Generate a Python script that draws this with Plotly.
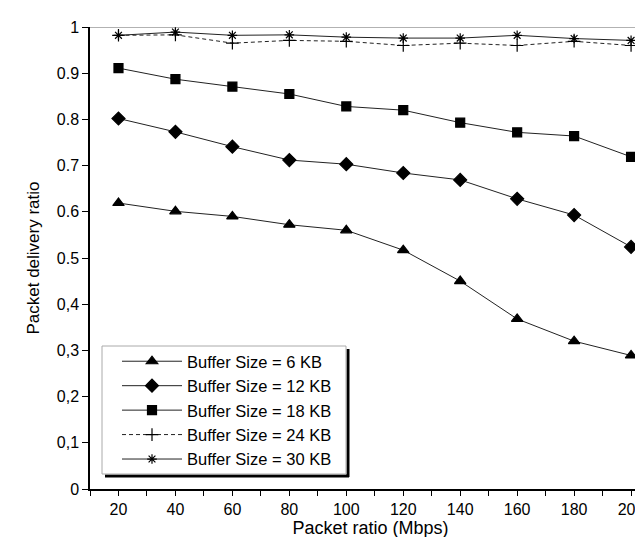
import plotly.graph_objects as go

packet_ratio = [20, 40, 60, 80, 100, 120, 140, 160, 180, 200]

buf_6kb = [0.619, 0.601, 0.590, 0.572, 0.560, 0.517, 0.450, 0.368, 0.320, 0.289]
buf_12kb = [0.802, 0.773, 0.741, 0.712, 0.703, 0.684, 0.669, 0.628, 0.593, 0.524]
buf_18kb = [0.911, 0.887, 0.871, 0.855, 0.828, 0.820, 0.793, 0.772, 0.764, 0.719]
buf_24kb = [0.982, 0.983, 0.965, 0.971, 0.969, 0.960, 0.965, 0.960, 0.969, 0.960]
buf_30kb = [0.982, 0.989, 0.982, 0.983, 0.978, 0.976, 0.976, 0.982, 0.975, 0.971]

series_names = ["Buffer Size = 6 KB", "Buffer Size = 12 KB", "Buffer Size = 18 KB",
                "Buffer Size = 24 KB", "Buffer Size = 30 KB"]

x_tick_vals = [10, 20, 30, 40, 50, 60, 70, 80, 90, 100, 110, 120, 130, 140, 150,
               160, 170, 180, 190, 200]
x_tick_text = ["", "20", "", "40", "", "60", "", "80", "", "100", "", "120", "",
               "140", "", "160", "", "180", "", "200"]
y_tick_vals = [0, 0.1, 0.2, 0.3, 0.4, 0.5, 0.6, 0.7, 0.8, 0.9, 1]
y_tick_text = ["0", "0,1", "0,2", "0,3", "0,4", "0.5", "0.6", "0.7", "0.8", "0.9", "1"]

FONT = "Liberation Sans, Arial, sans-serif"
LINE_COL = "#222222"

W, H = 643, 537
ML, MR, MT, MB = 82, 0, 19, 56
PW, PH = W - ML - MR, H - MT - MB


def px_x(p):
    return (p - ML) / PW


def px_y(p):
    return (H - MB - p) / PH


styles = [
    dict(symbol="triangle-up", size=10, dash="solid"),
    dict(symbol="diamond", size=10, dash="solid"),
    dict(symbol="square", size=9, dash="solid"),
    dict(symbol="cross-thin-open", size=9, dash="4px,3px"),
    dict(symbol="asterisk-open", size=8, dash="solid"),
]
data = [buf_6kb, buf_12kb, buf_18kb, buf_24kb, buf_30kb]

fig = go.Figure()
for i, (name, ys, st) in enumerate(zip(series_names, data, styles)):
    fig.add_trace(go.Scatter(
        x=packet_ratio, y=ys, name=name, mode="lines+markers",
        legendgroup=f"g{i}",
        line=dict(color=LINE_COL, width=1, dash=st["dash"]),
        marker=dict(symbol=st["symbol"], size=st["size"], color="black",
                    line=dict(color="black", width=1.2)),
    ))

# legend frame geometry in pixels (left, top, right, bottom)
LEG_L, LEG_T, LEG_R, LEG_B = 94, 338, 338, 466

fig.update_layout(
    width=W, height=H,
    margin=dict(l=ML, r=MR, t=MT, b=MB),
    paper_bgcolor="white", plot_bgcolor="white",
    font=dict(family=FONT, color="black", size=16),
    showlegend=True,
    legend=dict(
        x=px_x(109), y=px_y(336), xanchor="left", yanchor="top",
        bgcolor="rgba(0,0,0,0)", borderwidth=0,
        font=dict(family=FONT, size=16.5, color="black"),
        tracegroupgap=0, itemwidth=60,
    ),
    xaxis=dict(
        range=[10, 207], tickmode="array", tickvals=x_tick_vals, ticktext=x_tick_text,
        showgrid=False, zeroline=False, showline=True, linecolor="black", linewidth=1.5,
        ticks="outside", ticklen=5, tickcolor="black", tickwidth=1,
        tickfont=dict(size=16, family=FONT), automargin=False,
        title=dict(text="Packet ratio (Mbps)", font=dict(size=18, family=FONT), standoff=3),
    ),
    yaxis=dict(
        range=[0, 1], tickmode="array", tickvals=y_tick_vals, ticktext=y_tick_text,
        showgrid=False, zeroline=False, showline=True, linecolor="black", linewidth=1.5,
        ticks="outside", ticklen=6, tickcolor="black", tickwidth=1,
        tickfont=dict(size=16, family=FONT), automargin=False,
        title=dict(text="Packet delivery ratio", font=dict(size=17, family=FONT), standoff=13),
    ),
    shapes=[
        dict(type="line", xref="paper", yref="y", x0=0, x1=1, y0=1, y1=1,
             line=dict(color="#999999", width=1.5), layer="below"),
        # legend drop shadow (right and bottom)
        dict(type="line", xref="paper", yref="paper",
             x0=px_x(LEG_L + 3), x1=px_x(LEG_R + 3),
             y0=px_y(LEG_B + 2), y1=px_y(LEG_B + 2),
             line=dict(color="black", width=3), layer="below"),
        dict(type="line", xref="paper", yref="paper",
             x0=px_x(LEG_R + 2), x1=px_x(LEG_R + 2),
             y0=px_y(LEG_T + 3), y1=px_y(LEG_B + 3),
             line=dict(color="black", width=3), layer="below"),
        # legend frame
        dict(type="rect", xref="paper", yref="paper",
             x0=px_x(LEG_L), x1=px_x(LEG_R), y0=px_y(LEG_B), y1=px_y(LEG_T),
             fillcolor="white", line=dict(color="#aaaaaa", width=1), layer="below"),
    ],
)

fig.write_html("out.html")
